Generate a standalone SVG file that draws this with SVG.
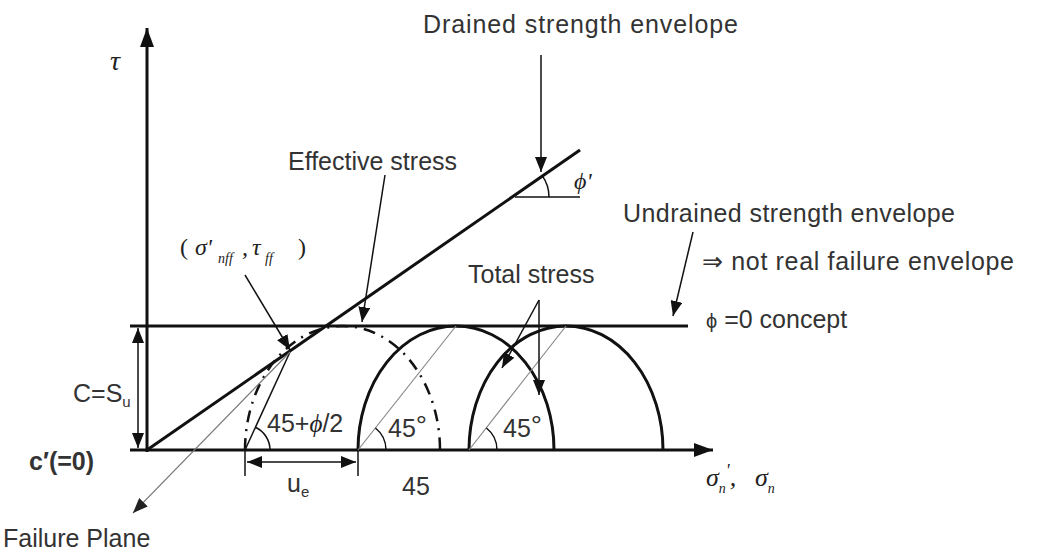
<svg xmlns="http://www.w3.org/2000/svg" width="1043" height="556" viewBox="0 0 1043 556">
<style>
.lbl{font-family:"Liberation Sans",Arial,sans-serif;font-size:25px;fill:#333}
.math{font-family:"Liberation Serif","Times New Roman",serif;font-style:italic;fill:#222}
.ax{stroke:#111;stroke-width:3;fill:none}
.thin{stroke:#111;stroke-width:1.5;fill:none}
.gray{stroke:#888;stroke-width:1.2;fill:none}
.circ{stroke:#111;stroke-width:3;fill:none}
</style>
<defs>
<marker id="ah" markerUnits="userSpaceOnUse" markerWidth="16" markerHeight="12" refX="15" refY="6" orient="auto-start-reverse" viewBox="0 0 16 12">
<path d="M0,0 L15,6 L0,12 z" fill="#111"/>
</marker>
<marker id="axh" markerUnits="userSpaceOnUse" markerWidth="20" markerHeight="16" refX="19" refY="8" orient="auto" viewBox="0 0 20 16">
<path d="M0,1 L19,8 L0,15 z" fill="#111"/>
</marker>
<marker id="gh" markerUnits="userSpaceOnUse" markerWidth="16" markerHeight="12" refX="15" refY="6" orient="auto" viewBox="0 0 16 12">
<path d="M0,0 L15,6 L0,12 z" fill="#222"/>
</marker>
</defs>

<g id="axes">
<line class="ax" x1="147" y1="452" x2="147" y2="28" marker-end="url(#axh)"/>
<line class="ax" x1="130" y1="450" x2="713" y2="450" marker-end="url(#axh)"/>
</g>

<g id="envelopes">
<line class="ax" x1="130" y1="326" x2="688" y2="326"/>
<line class="ax" x1="147" y1="450" x2="580" y2="150"/>
<line class="thin" x1="515" y1="197" x2="580" y2="197"/>
<path class="thin" d="M549,197 A37,37 0 0 0 542.4,175.9"/>
</g>

<g id="circles">
<path class="circ" d="M358,450 A98,124 0 0 1 554,450"/>
<path class="circ" d="M469,450 A97,124 0 0 1 663,450"/>
<path d="M245,450 A97.5,124 0 0 1 440,450" fill="none" stroke="#111" stroke-width="2.5" stroke-dasharray="12,7,2,7"/>
<line class="gray" x1="358" y1="450" x2="456" y2="326"/>
<line class="gray" x1="469" y1="450" x2="566" y2="326"/>
<path class="thin" d="M386,450 A28,28 0 0 0 375.4,428"/>
<path class="thin" d="M497,450 A28,28 0 0 0 486.4,428"/>
<line class="thin" x1="245" y1="450" x2="290" y2="352"/>
<path class="thin" d="M270,450 A25,25 0 0 0 255.4,427.3"/>
</g>

<g id="dimensions">
<line class="thin" x1="138" y1="328" x2="138" y2="448" marker-start="url(#ah)" marker-end="url(#ah)"/>
<line class="thin" x1="245" y1="450" x2="245" y2="476"/>
<line class="thin" x1="358" y1="450" x2="358" y2="476"/>
<line class="thin" x1="247" y1="462" x2="356" y2="462" marker-start="url(#ah)" marker-end="url(#ah)"/>
</g>

<g id="connectors">
<line class="thin" x1="541" y1="55" x2="541" y2="172" marker-end="url(#ah)"/>
<line class="thin" x1="385" y1="175" x2="362" y2="322" marker-end="url(#ah)"/>
<line class="thin" x1="245" y1="275" x2="290" y2="350" marker-end="url(#ah)"/>
<line class="thin" x1="693" y1="232" x2="673" y2="316" marker-end="url(#ah)"/>
<line class="thin" x1="539" y1="300" x2="502" y2="368" marker-end="url(#ah)"/>
<line class="thin" x1="539" y1="300" x2="539" y2="395" marker-end="url(#ah)"/>
<line x1="290" y1="352" x2="133" y2="513" stroke="#777" stroke-width="1.2" marker-end="url(#gh)"/>
</g>

<g id="label-drained"><text class="lbl" x="423" y="33" font-size="26" textLength="315" lengthAdjust="spacing">Drained strength envelope</text></g>
<g id="label-effective"><text class="lbl" x="288" y="170">Effective stress</text></g>
<g id="label-undrained"><text class="lbl" x="623" y="222" font-size="26" textLength="332" lengthAdjust="spacing">Undrained strength envelope</text></g>
<g id="label-notreal"><text class="lbl" x="702" y="270" textLength="312" lengthAdjust="spacing">⇒ not real failure envelope</text></g>
<g id="label-phi0"><text class="lbl" x="706" y="328"><tspan font-size="20">ϕ</tspan> =0 concept</text></g>
<g id="label-total"><text class="lbl" x="468" y="283">Total stress</text></g>
<g id="label-phiprime"><text class="math" x="574" y="189" font-size="24">ϕ'</text></g>
<g id="label-tau"><text class="math" x="110" y="70" font-size="28">τ</text></g>
<g id="label-point"><text class="math" font-size="24" y="255"><tspan x="180" font-style="normal">(</tspan><tspan x="195">σ'</tspan><tspan x="218" dy="8" font-size="14">nff</tspan><tspan x="242" dy="-8">,</tspan><tspan x="252">τ</tspan><tspan x="265" dy="8" font-size="14">ff</tspan><tspan x="298" dy="-8" font-style="normal">)</tspan></text></g>
<g id="label-csu"><text class="lbl" x="73" y="402" font-size="22">C=S<tspan font-size="15" dy="5">u</tspan></text></g>
<g id="label-c0"><text class="lbl" x="29" y="470" font-size="27" font-weight="bold" fill="#111">c′(=0)</text></g>
<g id="label-failure"><text class="lbl" x="3" y="547" font-size="26">Failure Plane</text></g>
<g id="label-45phi"><text class="lbl" x="267" y="432" font-size="22">45+<tspan class="math" fill="#555">ϕ</tspan>/2</text></g>
<g id="label-45a"><text class="lbl" x="388" y="437" font-size="23">45<tspan dy="-2" font-size="28">°</tspan></text></g>
<g id="label-45b"><text class="lbl" x="503" y="437" font-size="23">45<tspan dy="-2" font-size="28">°</tspan></text></g>
<g id="label-ue"><text class="lbl" x="287" y="492" font-size="24">u<tspan font-size="15" dy="5">e</tspan></text></g>
<g id="label-45"><text class="lbl" x="402" y="495">45</text></g>
<g id="label-sigma"><text class="math" font-size="26" y="486"><tspan x="706">σ</tspan><tspan font-size="14" dy="7">n</tspan><tspan dy="-16" font-size="18">'</tspan><tspan dy="9">,</tspan><tspan x="755">σ</tspan><tspan font-size="14" dy="7">n</tspan></text></g>
</svg>
